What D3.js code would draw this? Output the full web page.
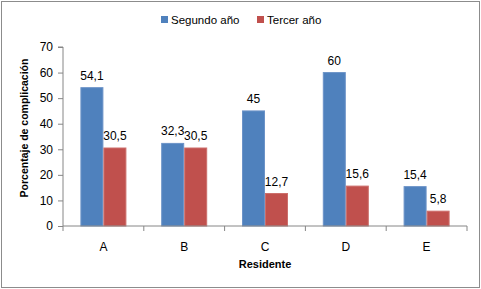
<!DOCTYPE html>
<html><head><meta charset="utf-8">
<script src="https://cdn.jsdelivr.net/npm/d3@7"></script>
<style>body{margin:0;background:#fff}svg{display:block}</style>
</head><body>
<script>
const categories = ["A","B","C","D","E"];
const seriesNames = ["Segundo año","Tercer año"];
const segundo = [54.1, 32.3, 45, 60, 15.4];
const tercer = [30.5, 30.5, 12.7, 15.6, 5.8];
const yTicks = [0,10,20,30,40,50,60,70];
const colors = ["#4F81BD","#C0504D"];
const strokes = ["#6C93C8","#CC6E6B"];

const W=481,H=289;
const svg=d3.select("body").append("svg").attr("width",W).attr("height",H);
const font="'Liberation Sans', Arial, sans-serif";
svg.append("rect").attr("x",1.5).attr("y",1.5).attr("width",W-3).attr("height",H-3)
  .attr("fill","#fff").attr("stroke","#8c8c8c").attr("stroke-width",1);

const x0=63,x1=467,yTop=47,yBot=226;
const x=d3.scaleBand().domain(categories).range([x0,x1]).paddingInner(0).paddingOuter(0);
const y=d3.scaleLinear().domain([0,70]).range([yBot,yTop]);
const inner=d3.scaleBand().domain([0,1]).range([0,46]);

const g=svg.append("g");
const data=[segundo,tercer];
data.forEach((vals,si)=>{
  g.selectAll(null).data(vals).enter().append("rect")
    .attr("x",(d,i)=>x(categories[i])+x.bandwidth()/2-23+inner(si)+0.5)
    .attr("y",d=>y(d))
    .attr("width",inner.bandwidth()-1)
    .attr("height",d=>yBot-y(d))
    .attr("fill",colors[si]).attr("stroke",strokes[si]).attr("stroke-width",1);
  g.selectAll(null).data(vals).enter().append("text")
    .attr("x",(d,i)=>x(categories[i])+x.bandwidth()/2-23+inner(si)+inner.bandwidth()/2)
    .attr("y",d=>y(d)-8)
    .attr("text-anchor","middle")
    .attr("font-family",font).attr("font-size",12).attr("fill","#000")
    .text(d=>String(d).replace(".",","));
});

// y axis
const ya=svg.append("g").attr("transform",`translate(${x0},0)`)
  .call(d3.axisLeft(y).tickValues(yTicks).tickSize(5).tickPadding(5).tickFormat(d3.format("d")));
ya.select(".domain").attr("stroke","#868686").attr("d",`M-5,${yTop}H0V${yBot}`);
ya.selectAll(".tick line").attr("stroke","#868686");
ya.selectAll("text").attr("font-family",font).attr("font-size",12).attr("fill","#000");

// x axis
const xa=svg.append("g").attr("transform",`translate(0,${yBot})`)
  .call(d3.axisBottom(x).tickSize(0).tickPadding(16));
xa.select(".domain").attr("stroke","#868686").attr("d",`M${x0},0H${x1}`);
xa.selectAll("text").attr("font-family",font).attr("font-size",12).attr("fill","#000");
const bounds=categories.map(c=>x(c)).concat([x1]);
xa.selectAll(null).data(bounds).enter().append("line")
  .attr("x1",d=>d).attr("x2",d=>d).attr("y1",0).attr("y2",5).attr("stroke","#868686");

// titles
svg.append("text").attr("x",265).attr("y",268).attr("text-anchor","middle")
  .attr("font-family",font).attr("font-size",11).attr("font-weight","bold").text("Residente");
svg.append("text").attr("transform","translate(28,128) rotate(-90)").attr("text-anchor","middle")
  .attr("font-family",font).attr("font-size",10.5).attr("font-weight","bold").text("Porcentaje de complicación");

// legend
const legX=[161,257];
seriesNames.forEach((n,i)=>{
  svg.append("rect").attr("x",legX[i]).attr("y",16).attr("width",7).attr("height",7).attr("fill",colors[i]);
  svg.append("text").attr("x",legX[i]+10).attr("y",24).attr("font-family",font).attr("font-size",11.5).attr("fill","#000").text(n);
});
</script>
</body></html>
